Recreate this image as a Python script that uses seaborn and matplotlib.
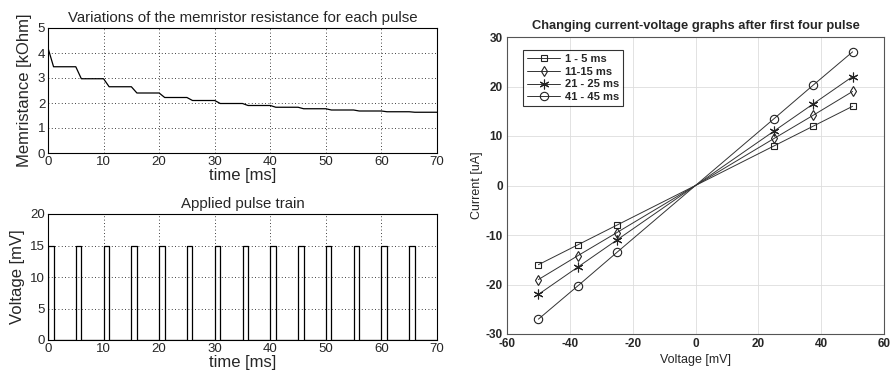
import numpy as np
import pandas as pd
import seaborn as sns
import matplotlib.pyplot as plt

# memristance staircase: level reached after each pulse
pulse_starts = [0, 5, 10, 15, 20, 25, 30, 35, 40, 45, 50, 55, 60, 65]
pulse_width = 1
pulse_amp = 15
r_start = 4.2
r_levels = [3.45, 2.97, 2.65, 2.40, 2.22, 2.10, 1.98, 1.90, 1.83, 1.77, 1.72, 1.68, 1.65, 1.63]
t_end = 70

# I-V curves
voltage = [-50, -37.5, -25, 0, 25, 37.5, 50]
iv_labels = ['1 - 5 ms', '11-15 ms', '21 - 25 ms', '41 - 45 ms']
iv_pos = {
    '1 - 5 ms': [8.0, 12.0, 16.0],
    '11-15 ms': [9.5, 14.2, 19.0],
    '21 - 25 ms': [11.0, 16.5, 22.0],
    '41 - 45 ms': [13.5, 20.3, 27.0],
}
iv_markers = ['s', 'd', (6, 2, 0), 'o']
iv_msize = [4.5, 5.5, 7, 6]

# build polylines
t_r, r_vals = [0], [r_start]
for s, r in zip(pulse_starts, r_levels):
    if s > 0:
        t_r.append(s)
        r_vals.append(r_vals[-1])
    t_r.append(s + pulse_width)
    r_vals.append(r)
t_r.append(t_end)
r_vals.append(r_vals[-1])
mem = pd.DataFrame({'t': t_r, 'R': r_vals})

t_p, v_p = [], []
for s in pulse_starts:
    t_p += [s, s, s + pulse_width, s + pulse_width]
    v_p += [0, pulse_amp, pulse_amp, 0]
t_p = [0] + t_p + [t_end]
v_p = [0] + v_p + [0]
pulse = pd.DataFrame({'t': t_p, 'V': v_p})

sns.set_style('white')
plt.rcParams['font.family'] = ['Liberation Sans', 'DejaVu Sans']
plt.rcParams['axes.unicode_minus'] = False

fig = plt.figure(figsize=(8.93, 3.78), dpi=100)
W, H = 893, 378
ax1 = fig.add_axes([48 / W, 1 - 153 / H, (437 - 48) / W, (153 - 28) / H])
ax2 = fig.add_axes([48 / W, 1 - 340 / H, (437 - 48) / W, (340 - 214) / H])
ax3 = fig.add_axes([507 / W, 1 - 334 / H, (884 - 507) / W, (334 - 37) / H])

sns.lineplot(data=mem, x='t', y='R', ax=ax1, color='black', lw=0.9,
             estimator=None, sort=False)
ax1.set_xlim(0, 70)
ax1.set_ylim(0, 5)
ax1.set_yticks([0, 1, 2, 3, 4, 5])
ax1.set_title('Variations of the memristor resistance for each pulse', fontsize=10.8, pad=4)
ax1.set_xlabel('time [ms]', fontsize=12, labelpad=0)
ax1.set_ylabel('Memristance [kOhm]', fontsize=12, labelpad=4)

sns.lineplot(data=pulse, x='t', y='V', ax=ax2, color='black', lw=0.9,
             estimator=None, sort=False)
ax2.set_xlim(0, 70)
ax2.set_ylim(0, 20)
ax2.set_yticks([0, 5, 10, 15, 20])
ax2.set_title('Applied pulse train', fontsize=10.8, pad=4)
ax2.set_xlabel('time [ms]', fontsize=12, labelpad=0)
ax2.set_ylabel('Voltage [mV]', fontsize=12, labelpad=4)

for ax in (ax1, ax2):
    ax.set_xticks(range(0, 71, 10))
    ax.grid(True, color='black', linestyle=(0, (1, 3)), lw=0.6)
    ax.tick_params(labelsize=9.5, direction='in', length=3, pad=2)
    for sp in ax.spines.values():
        sp.set_color('black')
        sp.set_linewidth(0.8)

rows = []
for lab in iv_labels:
    pos = iv_pos[lab]
    cur = [-pos[2], -pos[1], -pos[0], 0, pos[0], pos[1], pos[2]]
    for v, c in zip(voltage, cur):
        rows.append({'Voltage': v, 'Current': c, 'curve': lab})
iv = pd.DataFrame(rows)

for lab, mk, ms in zip(iv_labels, iv_markers, iv_msize):
    d = iv[iv['curve'] == lab]
    sns.lineplot(data=d, x='Voltage', y='Current', ax=ax3, color='#333333', lw=0.7,
                 marker=mk, markersize=ms, markerfacecolor='none',
                 markeredgecolor='#222222', markeredgewidth=0.8,
                 markevery=[0, 1, 2, 4, 5, 6], label=lab, estimator=None, sort=False)

ax3.set_xlim(-60, 60)
ax3.set_ylim(-30, 30)
ax3.set_xticks(range(-60, 61, 20))
ax3.set_yticks(range(-30, 31, 10))
ax3.grid(True, color='#dddddd', lw=0.6)
ax3.tick_params(labelsize=8.5, direction='in', length=2, pad=3)
for t in ax3.get_xticklabels() + ax3.get_yticklabels():
    t.set_fontweight('bold')
ax3.set_title('Changing current-voltage graphs after first four pulse', fontsize=9.3,
              fontweight='bold', pad=6)
ax3.set_xlabel('Voltage [mV]', fontsize=9, labelpad=3)
ax3.set_ylabel('Current [uA]', fontsize=9, labelpad=2)
for sp in ax3.spines.values():
    sp.set_color('#555555')
    sp.set_linewidth(0.8)
leg = ax3.legend(loc='upper left', fontsize=8, frameon=True, fancybox=False,
                 edgecolor='black', handlelength=3.0, handletextpad=0.4,
                 borderpad=0.35, labelspacing=0.25,
                 bbox_to_anchor=(0.028, 0.975))
for t in leg.get_texts():
    t.set_fontweight('bold')
leg.get_frame().set_linewidth(0.8)

plt.savefig('out.png', dpi=100)
